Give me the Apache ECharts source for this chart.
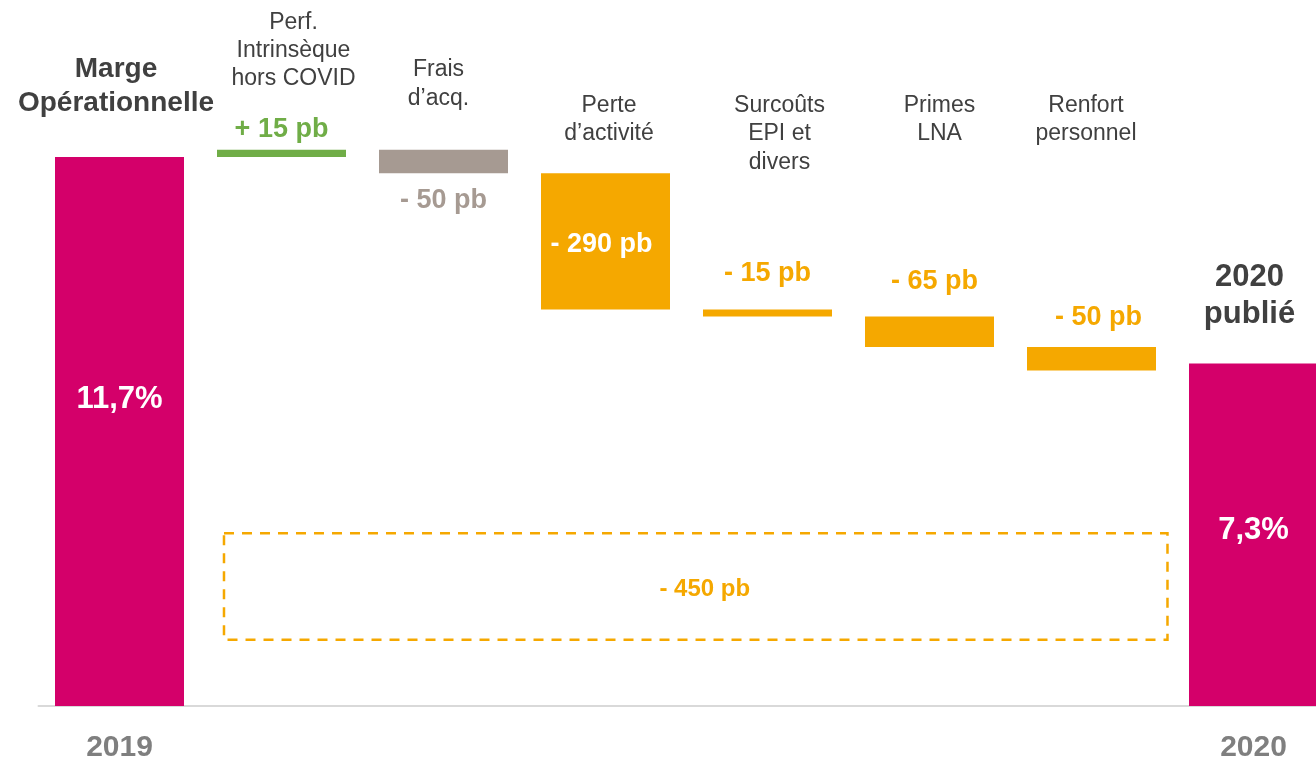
<!DOCTYPE html>
<html>
<head>
<meta charset="utf-8">
<script src="https://cdn.jsdelivr.net/npm/echarts@6/dist/echarts.min.js"></script>
<style>
  html, body { margin: 0; padding: 0; background: #ffffff; }
  #chart { width: 1316px; height: 757px; }
</style>
</head>
<body>
<div id="chart"></div>
<script>
// Operating margin bridge 2019 -> 2020 (basis points)
const categories = ['2019', 'Perf. intrinsèque', 'Frais d’acq.', 'Perte d’activité', 'Surcoûts EPI', 'Primes LNA', 'Renfort personnel', '2020'];
const axisLabels = ['2019', '', '', '', '', '', '', '2020'];
const headings = [
  'Marge\nOpérationnelle',
  'Perf.\nIntrinsèque\nhors COVID',
  'Frais\nd’acq.',
  'Perte\nd’activité',
  'Surcoûts\nEPI et\ndivers',
  'Primes\nLNA',
  'Renfort\npersonnel',
  '2020\npublié'
];
const startMargin = 11.7;          // %
const endMargin = 7.3;             // %
const changesPb = [15, -50, -290, -15, -65, -50];
const totalChangePb = -450;

const FONT = "'Liberation Sans', Arial, sans-serif";
const MAGENTA = '#D4006A';
const GREEN = '#70AD47';
const TAUPE = '#A69A92';
const ORANGE = '#F5A800';
const DARK = '#404040';

// ---- waterfall geometry (invisible base + visible step) ----
const baseData = [0];
const stepData = [startMargin];
let level = startMargin;
changesPb.forEach(pb => {
  const next = level + pb / 100;
  baseData.push(+Math.min(level, next).toFixed(4));
  stepData.push(+(Math.abs(pb) / 100).toFixed(4));
  level = next;
});
baseData.push(0);
stepData.push(endMargin);

const pct = v => v.toFixed(1).replace('.', ',') + '%';
const pb = v => (v > 0 ? '+ ' : '- ') + Math.abs(v) + ' pb';

const stepColors = [MAGENTA, GREEN, TAUPE, ORANGE, ORANGE, ORANGE, ORANGE, MAGENTA];

// label placement for each column
const labelStyles = [
  { position: 'insideTop', distance: 227, color: '#fff', fontSize: 31 },
  { position: 'top', distance: 7, color: GREEN, fontSize: 27 },
  { position: 'bottom', distance: 14, color: TAUPE, fontSize: 27 },
  { position: 'inside', distance: 0, color: '#fff', fontSize: 27, offset: [-4, 3] },
  { position: 'top', distance: 22, color: ORANGE, fontSize: 27 },
  { position: 'top', distance: 21, color: ORANGE, fontSize: 27, offset: [5, 0] },
  { position: 'top', distance: 16, color: ORANGE, fontSize: 27, offset: [7, 0] },
  { position: 'insideTop', distance: 152, color: '#fff', fontSize: 31 }
];

const labelTexts = [pct(startMargin)].concat(changesPb.map(pb)).concat([pct(endMargin)]);

const stepSeriesData = stepData.map((v, i) => ({
  value: v,
  itemStyle: { color: stepColors[i] },
  label: {
    show: true,
    position: labelStyles[i].position,
    distance: labelStyles[i].distance,
    offset: labelStyles[i].offset || [0, 0],
    color: labelStyles[i].color,
    fontSize: labelStyles[i].fontSize,
    fontWeight: 'bold',
    fontFamily: FONT,
    formatter: () => labelTexts[i]
  }
}));

// heading text above each column
const headingLayout = [
  { dx: -3.5, top: 52, size: 28, lh: 34, weight: 'bold' },
  { dx: 12, top: 8.5, size: 23, lh: 28, weight: 'normal' },
  { dx: -5, top: 55.5, size: 23, lh: 29, weight: 'normal' },
  { dx: 3.5, top: 91, size: 23, lh: 28.5, weight: 'normal' },
  { dx: 12, top: 91, size: 23, lh: 28.5, weight: 'normal' },
  { dx: 10, top: 91, size: 23, lh: 28.5, weight: 'normal' },
  { dx: -5.5, top: 91, size: 23, lh: 28.5, weight: 'normal' },
  { dx: -4, top: 259, size: 31, lh: 37, weight: 'bold' }
];

const chart = echarts.init(document.getElementById('chart'), null, { renderer: 'canvas' });

chart.setOption({
  animation: false,
  backgroundColor: '#ffffff',
  grid: { left: 38.5, right: -18.5, top: 2, bottom: 51, containLabel: false, outerBoundsMode: 'none' },
  xAxis: {
    type: 'category',
    data: categories,
    axisTick: { show: false },
    axisLine: { lineStyle: { color: '#d9d9d9', width: 2 } },
    axisLabel: {
      interval: 0,
      margin: 27,
      formatter: (v, i) => axisLabels[i],
      color: '#7f7f7f',
      fontSize: 30,
      fontWeight: 'bold',
      fontFamily: FONT
    },
    splitLine: { show: false }
  },
  yAxis: {
    type: 'value',
    min: 0,
    max: 15,
    show: false,
    splitLine: { show: false }
  },
  series: [
    {
      name: 'base',
      type: 'bar',
      stack: 'bridge',
      barWidth: 129,
      silent: true,
      itemStyle: { color: 'rgba(0,0,0,0)' },
      data: baseData
    },
    {
      name: 'step',
      type: 'bar',
      stack: 'bridge',
      barWidth: 129,
      data: stepSeriesData
    },
    {
      name: 'headings',
      type: 'custom',
      silent: true,
      data: headings.map((h, i) => [i, 0]),
      renderItem: (params, api) => {
        const i = api.value(0);
        const p = api.coord([i, 0]);
        const L = headingLayout[i];
        return {
          type: 'text',
          x: p[0] + L.dx,
          y: L.top,
          style: {
            text: headings[i],
            fill: DARK,
            font: L.weight + ' ' + L.size + 'px ' + FONT,
            align: 'center',
            verticalAlign: 'top',
            lineHeight: L.lh
          }
        };
      }
    },
    {
      name: 'total',
      type: 'custom',
      silent: true,
      // [first step column, last step column, lower bound, upper bound]
      data: [[1, 6, 1.41, 3.68]],
      renderItem: (params, api) => {
        const topLeft = api.coord([api.value(0), api.value(3)]);
        const bottomRight = api.coord([api.value(1), api.value(2)]);
        const band = api.size([1, 0])[0];
        const x0 = topLeft[0] - 0.355 * band;
        const x1 = bottomRight[0] + 0.469 * band;
        const y0 = topLeft[1];
        const y1 = bottomRight[1];
        return {
          type: 'group',
          children: [
            {
              type: 'rect',
              shape: { x: x0, y: y0, width: x1 - x0, height: y1 - y0 },
              style: { fill: 'none', stroke: ORANGE, lineWidth: 2.5, lineDash: [10, 8] }
            },
            {
              type: 'text',
              x: (x0 + x1) / 2 + 9,
              y: (y0 + y1) / 2 + 3,
              style: {
                text: pb(totalChangePb),
                fill: ORANGE,
                font: 'bold 24px ' + FONT,
                align: 'center',
                verticalAlign: 'middle'
              }
            }
          ]
        };
      }
    }
  ]
});
</script>
</body>
</html>
